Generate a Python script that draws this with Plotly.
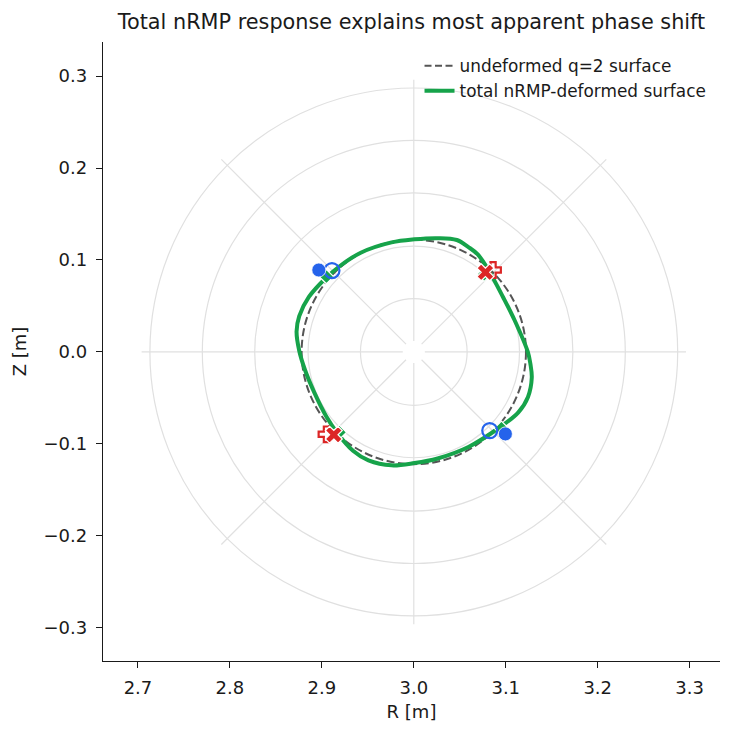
import plotly.graph_objects as go
import math

# ---------------- data ----------------
R0, Z0 = 3.0, 0.0
q2_radius = 0.122

grid_radii = [0.058, 0.115, 0.173, 0.230, 0.287]
grid_angles_deg = [0, 45, 90, 135, 180, 225, 270, 315]
grid_r_inner, grid_r_outer = 0.012, 0.296

deformed_R = [3.1240, 3.1095, 3.0970, 3.0824, 3.0698, 3.0594, 3.0468, 3.0259,
              3.0008, 2.9758, 2.9423, 2.9193, 2.9047, 2.8859, 2.8754, 2.8725,
              2.8754, 2.8817, 2.8921, 2.9047, 2.9172, 2.9339, 2.9507, 2.9758,
              3.0008, 3.0259, 3.0594, 3.0928, 3.1137, 3.1242, 3.1283, 3.1268,
              3.1240]
deformed_Z = [0.0000, 0.0347, 0.0598, 0.0870, 0.1058, 0.1140, 0.1217, 0.1237,
              0.1225, 0.1191, 0.1079, 0.0932, 0.0807, 0.0598, 0.0389, 0.0222,
              0.0013, -0.0196, -0.0447, -0.0698, -0.0886, -0.1074, -0.1179, -0.1233,
              -0.1208, -0.1158, -0.1033, -0.0824, -0.0656, -0.0489, -0.0280, -0.0130,
              0.0000]

blue_filled_R = [2.8967, 3.0996]
blue_filled_Z = [0.0891, -0.0891]
blue_open_R = [2.9110, 3.0826]
blue_open_Z = [0.0885, -0.0855]
green_diamond_R = [2.9050, 3.0953, 3.0765, 2.9190]
green_diamond_Z = [0.0819, -0.0830, 0.0845, -0.0874]
red_open_R = [3.0862, 2.9050]
red_open_Z = [0.0891, -0.0895]
red_filled_R = [3.0779, 2.9130]
red_filled_Z = [0.0866, -0.0900]

x_ticks = [2.7, 2.8, 2.9, 3.0, 3.1, 3.2, 3.3]
y_ticks = [-0.3, -0.2, -0.1, 0.0, 0.1, 0.2, 0.3]

title_text = "Total nRMP response explains most apparent phase shift"
legend_names = ["undeformed q=2 surface", "total nRMP-deformed surface"]

# ---------------- styles ----------------
GREEN = "#16a34a"
BLUE = "#2563eb"
RED = "#dc2626"
GRAY_DASH = "#555555"
GRID = "#e0e0e0"
TEXT = "#1a1a1a"
FONT = "DejaVu Sans"

fig = go.Figure()

# legend-only entry for the dashed undeformed surface (drawn as a shape)
fig.add_trace(go.Scatter(x=[None], y=[None], mode="lines", name=legend_names[0],
                         line=dict(color=GRAY_DASH, width=2, dash="7px,3.5px"),
                         hoverinfo="skip"))

fig.add_trace(go.Scatter(x=deformed_R, y=deformed_Z, mode="lines",
                         name=legend_names[1],
                         line=dict(color=GREEN, width=4, shape="spline", smoothing=1.0)))

fig.add_trace(go.Scatter(x=green_diamond_R, y=green_diamond_Z, mode="markers",
                         showlegend=False,
                         marker=dict(symbol="diamond", size=11, color=GREEN,
                                     line=dict(color="white", width=1.2))))
fig.add_trace(go.Scatter(x=blue_open_R, y=blue_open_Z, mode="markers",
                         showlegend=False,
                         marker=dict(symbol="circle-open", size=15, color=BLUE,
                                     line=dict(color=BLUE, width=2.2))))
fig.add_trace(go.Scatter(x=blue_filled_R, y=blue_filled_Z, mode="markers",
                         showlegend=False,
                         marker=dict(symbol="circle", size=14, color=BLUE,
                                     line=dict(color="white", width=0.8))))
fig.add_trace(go.Scatter(x=red_open_R, y=red_open_Z, mode="markers",
                         showlegend=False,
                         marker=dict(symbol="cross-open", size=13, color=RED,
                                     line=dict(color=RED, width=2.2))))
fig.add_trace(go.Scatter(x=red_filled_R, y=red_filled_Z, mode="markers",
                         showlegend=False,
                         marker=dict(symbol="x", size=15, color=RED,
                                     line=dict(color="white", width=1.2))))

shapes = []
for r in grid_radii:
    shapes.append(dict(type="circle", xref="x", yref="y", layer="below",
                       x0=R0 - r, x1=R0 + r, y0=Z0 - r, y1=Z0 + r,
                       line=dict(color=GRID, width=1.2)))
for a in grid_angles_deg:
    c, s = math.cos(math.radians(a)), math.sin(math.radians(a))
    shapes.append(dict(type="line", xref="x", yref="y", layer="below",
                       x0=R0 + grid_r_inner * c, y0=Z0 + grid_r_inner * s,
                       x1=R0 + grid_r_outer * c, y1=Z0 + grid_r_outer * s,
                       line=dict(color=GRID, width=1.2)))
shapes.append(dict(type="circle", xref="x", yref="y", layer="below",
                   x0=R0 - q2_radius, x1=R0 + q2_radius,
                   y0=Z0 - q2_radius, y1=Z0 + q2_radius,
                   line=dict(color=GRAY_DASH, width=2, dash="8px,3.5px")))

def fmt(v):
    s = f"{v:.1f}"
    return s.replace("-", "\u2212")

fig.update_layout(
    width=736, height=737,
    margin=dict(l=103, r=16, t=42, b=76),
    paper_bgcolor="white", plot_bgcolor="white",
    font=dict(family=FONT, size=18, color=TEXT),
    shapes=shapes,
    title=dict(text=title_text, x=0.5, xref="paper", xanchor="center",
               y=1 - 22 / 737, yref="container", yanchor="middle",
               font=dict(family=FONT, size=20.8, color=TEXT)),
    showlegend=True,
    legend=dict(x=0.513, y=0.99, xanchor="left", yanchor="top",
                bgcolor="rgba(0,0,0,0)", borderwidth=0,
                font=dict(family=FONT, size=16.9, color=TEXT),
                tracegroupgap=0),
    xaxis=dict(range=[2.662, 3.333], showgrid=False, zeroline=False,
               showline=True, linecolor=TEXT, linewidth=1.4,
               ticks="outside", ticklen=6, tickwidth=1.4, tickcolor=TEXT,
               tickvals=x_ticks, ticktext=[fmt(v) for v in x_ticks],
               ticklabelstandoff=4,
               title=dict(text="R [m]", standoff=8, font=dict(size=18))),
    yaxis=dict(range=[-0.336, 0.337], showgrid=False, zeroline=False,
               showline=True, linecolor=TEXT, linewidth=1.4,
               ticks="outside", ticklen=6, tickwidth=1.4, tickcolor=TEXT,
               tickvals=y_ticks, ticktext=[fmt(v) for v in y_ticks],
               ticklabelstandoff=5,
               title=dict(text="Z [m]", standoff=12, font=dict(size=18))),
)

fig.write_html("out.html")
